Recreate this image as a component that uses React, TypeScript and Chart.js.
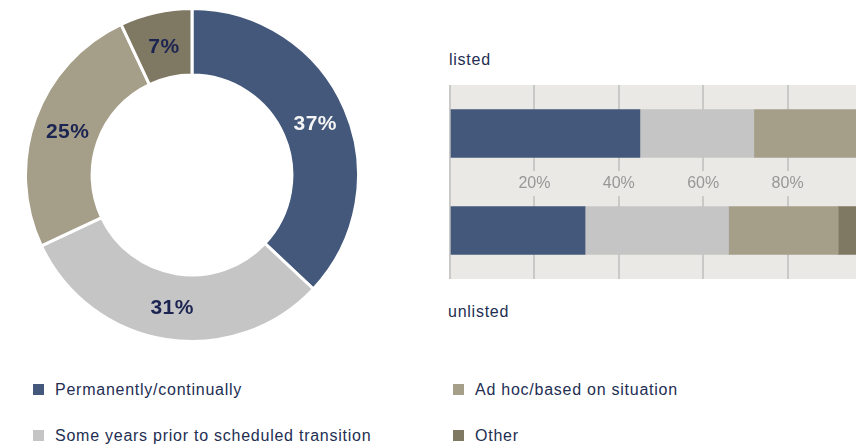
import React, { useEffect, useRef } from 'react';
import { Chart, registerables } from 'chart.js';

Chart.register(...registerables);

// ---- data ----
const shareLabels = [
  'Permanently/continually',
  'Some years prior to scheduled transition',
  'Ad hoc/based on situation',
  'Other',
];
const shareValues = [37, 31, 25, 7];

const groupLabels = ['listed', 'unlisted'];
const permanentValues = [45, 32];
const someYearsValues = [27, 34];
const adHocValues = [25, 26];
const otherValues = [3, 8];

const xTickValues = [0, 20, 40, 60, 80, 100];

const colors = ['#43587b', '#c5c5c5', '#a59e89', '#7f7862'];
const textNavy = '#232e52';
const FONT = '"Liberation Sans", Arial, sans-serif';

const sliceLabelPlugin = {
  id: 'sliceLabels',
  afterDatasetsDraw(chart: any) {
    const ctx = chart.ctx;
    const meta = chart.getDatasetMeta(0);
    ctx.save();
    ctx.font = `bold 21px ${FONT}`;
    try { (ctx as any).letterSpacing = '0.5px'; } catch (e) {}
    ctx.textAlign = 'center';
    ctx.textBaseline = 'middle';
    meta.data.forEach((arc: any, i: number) => {
      const p = arc.tooltipPosition(false);
      ctx.fillStyle = i === 0 ? '#f5f5f5' : '#1c2452';
      ctx.fillText(shareValues[i] + '%', p.x + 1, p.y + 2);
    });
    ctx.restore();
  },
};

const plotBgPlugin = {
  id: 'plotBg',
  beforeDraw(chart: any) {
    const { ctx, chartArea: a } = chart;
    ctx.save();
    ctx.fillStyle = '#ebe9e5';
    ctx.fillRect(a.left - 1, a.top, a.right - a.left + 1, a.bottom - a.top);
    ctx.restore();
  },
};

export default function App() {
  const donutRef = useRef<HTMLCanvasElement | null>(null);
  const barRef = useRef<HTMLCanvasElement | null>(null);

  useEffect(() => {
    document.body.style.margin = '0';
    document.body.style.overflow = 'hidden';
    const donut = new Chart(donutRef.current!, {
      type: 'doughnut',
      data: {
        labels: shareLabels,
        datasets: [
          {
            data: shareValues,
            backgroundColor: colors,
            borderColor: '#ffffff',
            borderWidth: 3,
          },
        ],
      },
      options: {
        animation: false,
        responsive: false,
        cutout: '60%',
        events: [],
        plugins: { legend: { display: false }, tooltip: { enabled: false } },
      },
      plugins: [sliceLabelPlugin],
    });

    const mk = (label: string, data: number[], color: string) => ({
      label,
      data,
      backgroundColor: color,
      borderWidth: 0,
      barThickness: 48,
    });

    const bar = new Chart(barRef.current!, {
      type: 'bar',
      data: {
        labels: groupLabels,
        datasets: [
          mk(shareLabels[0], permanentValues, colors[0]),
          mk(shareLabels[1], someYearsValues, colors[1]),
          mk(shareLabels[2], adHocValues, colors[2]),
          mk(shareLabels[3], otherValues, colors[3]),
        ],
      },
      options: {
        indexAxis: 'y',
        animation: false,
        responsive: false,
        events: [],
        layout: { padding: { left: 2, right: 2, top: 0, bottom: 0 } },
        plugins: { legend: { display: false }, tooltip: { enabled: false } },
        scales: {
          x: {
            type: 'linear',
            position: 'center',
            stacked: true,
            min: 0,
            max: 100,
            afterBuildTicks: (s: any) => {
              s.ticks = xTickValues.map((v) => ({ value: v }));
            },
            grid: { color: '#c9c9c7', lineWidth: 2, drawTicks: false },
            border: { display: false },
            ticks: {
              callback: (v: any) => (v === 0 || v === 100 ? '' : v + '%'),
              color: '#979797',
              font: { size: 16, family: FONT },
              padding: -8,
              showLabelBackdrop: true,
              backdropColor: '#ebe9e5',
              backdropPadding: { top: 3, bottom: 3, left: 0, right: 0 },
              autoSkip: false,
              maxRotation: 0,
            },
          },
          y: { stacked: true, display: false },
        },
      },
      plugins: [plotBgPlugin],
    } as any);

    return () => {
      donut.destroy();
      bar.destroy();
    };
  }, []);

  const legendText: React.CSSProperties = {
    position: 'absolute',
    fontFamily: FONT,
    fontSize: 16,
    letterSpacing: '0.75px',
    color: textNavy,
    lineHeight: '20px',
    whiteSpace: 'nowrap',
  };

  const items = [
    { x: 33, y: 384, i: 0 },
    { x: 33, y: 430, i: 1 },
    { x: 453, y: 384, i: 2 },
    { x: 453, y: 430, i: 3 },
  ];

  return (
    <div
      style={{
        position: 'fixed',
        left: 0,
        top: 0,
        width: 856,
        height: 445,
        overflow: 'hidden',
        background: '#ffffff',
      }}
    >
      <canvas
        ref={donutRef}
        width={336}
        height={336}
        style={{ position: 'absolute', left: 24, top: 7, width: 336, height: 336 }}
      />
      <canvas
        ref={barRef}
        width={426}
        height={194}
        style={{ position: 'absolute', left: 448, top: 85, width: 426, height: 194 }}
      />
      <div style={{ ...legendText, left: 449, top: 50 }}>{groupLabels[0]}</div>
      <div style={{ ...legendText, left: 448, top: 302 }}>{groupLabels[1]}</div>
      {items.map((it) => (
        <React.Fragment key={it.i}>
          <div
            style={{
              position: 'absolute',
              left: it.x,
              top: it.y,
              width: 11,
              height: 11,
              background: colors[it.i],
            }}
          />
          <div style={{ ...legendText, left: it.x + 22, top: it.y - 4 }}>{shareLabels[it.i]}</div>
        </React.Fragment>
      ))}
    </div>
  );
}
